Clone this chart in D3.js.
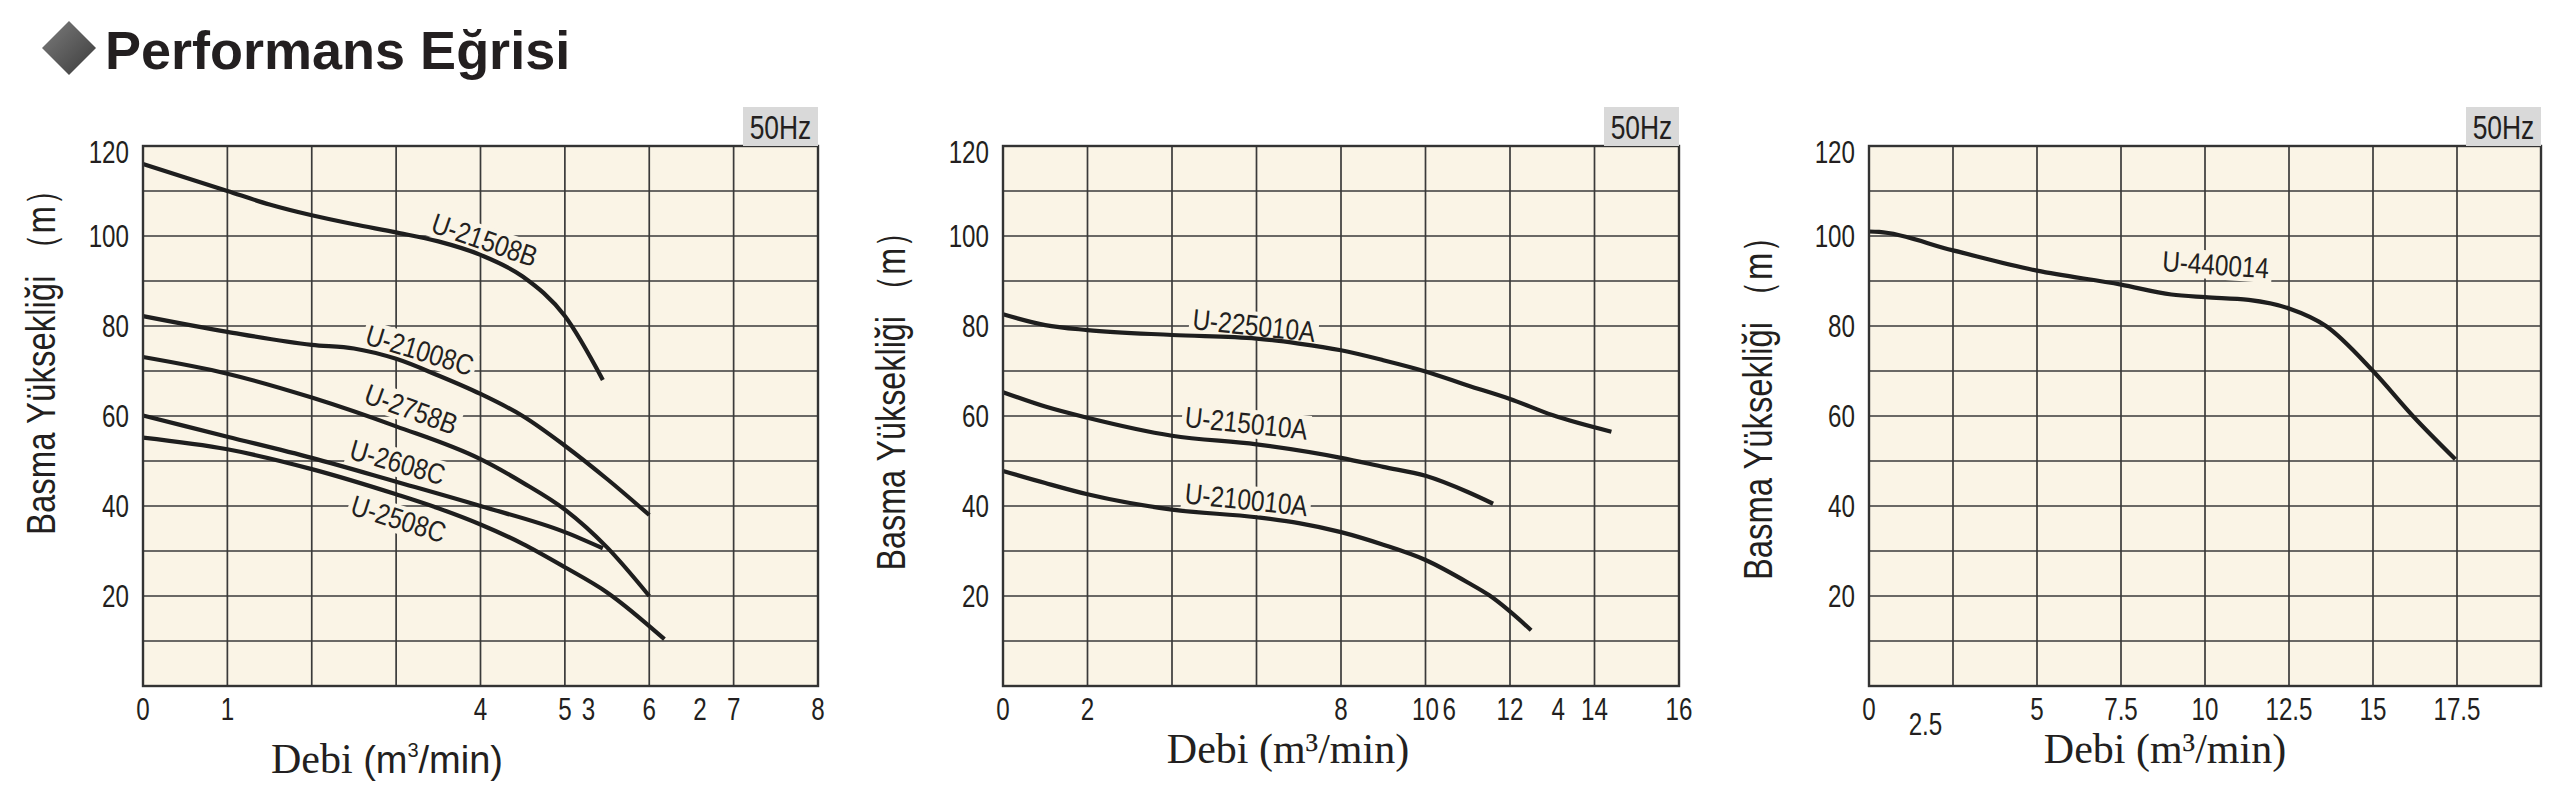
<!DOCTYPE html>
<html>
<head>
<meta charset="utf-8">
<script src="https://cdn.jsdelivr.net/npm/d3@7/dist/d3.min.js"></script>
<style>
  body { margin: 0; background: #fff; }
  svg { display: block; }
</style>
</head>
<body>
<div id="chart"></div>
<script>
// ---- data (flow m3/min, head m) ----
var u21508B_q = [0, 0.5, 1, 1.5, 2, 2.5, 3, 3.5, 4, 4.5, 5, 5.45];
var u21508B_h = [116, 113, 110, 107, 104.6, 102.6, 100.8, 98.8, 95.8, 91, 82.2, 68];
var u21008C_q = [0, 1, 2, 2.5, 3, 3.5, 4, 4.5, 5, 5.5, 6];
var u21008C_h = [82.2, 78.7, 75.8, 75, 72.7, 69, 64.9, 60, 53.4, 46, 38];
var u2758B_q = [0, 1, 2, 3, 4, 4.5, 5, 5.5, 6];
var u2758B_h = [73.1, 69.4, 64.1, 57.7, 50.4, 45.2, 39.2, 30.8, 20];
var u2608C_q = [0, 1, 2, 3, 4, 5, 5.45];
var u2608C_h = [60.1, 55.4, 50.7, 45.4, 40, 34.2, 30.6];
var u2508C_q = [0, 1, 2, 3, 3.5, 4, 4.5, 5, 5.5, 6.18];
var u2508C_h = [55.2, 52.6, 48.2, 42.6, 39.5, 35.9, 31.6, 26.4, 20.8, 10.4];

var u225010A_q = [0, 1, 2, 4, 6, 7, 8, 9, 10, 11, 12, 13, 14.4];
var u225010A_h = [82.6, 80.2, 79.1, 78, 77.2, 76.1, 74.6, 72.4, 69.9, 66.8, 63.8, 60.2, 56.5];
var u215010A_q = [0, 1, 2, 4, 6, 8, 9, 10, 11, 11.6];
var u215010A_h = [65.3, 62.1, 59.6, 55.6, 53.7, 50.7, 48.7, 46.7, 43.1, 40.5];
var u210010A_q = [0, 1, 2, 4, 6, 7, 8, 9, 10, 11, 11.5, 12.5];
var u210010A_h = [47.8, 45.1, 42.6, 39.2, 37.5, 36.2, 34.2, 31.4, 28, 23, 20.2, 12.4];

var u440014_q = [0, 0.3, 2.5, 5, 7.5, 9, 10, 11.3, 12.5, 13.6, 15, 16.2, 17.45];
var u440014_h = [101, 100.9, 96.8, 92.3, 89.2, 87, 86.4, 85.8, 83.9, 80, 70, 59.9, 50.4];

// label anchor on each curve: [flow, head, angle]
var u21508B_lab = [4.05, 99.2, 19];
var u21008C_lab = [3.28, 74.7, 17];
var u2758B_lab = [3.18, 61.6, 20];
var u2608C_lab = [3.02, 49.8, 16];
var u2508C_lab = [3.03, 37.2, 17.5];
var u225010A_lab = [5.94, 80.2, 6];
var u215010A_lab = [5.76, 58.5, 6];
var u210010A_lab = [5.76, 41.5, 6];
var u440014_lab = [10.32, 93.7, 4];

// tick labels (printed as in the source sheet)
var xTicks1 = [0, 1, 4, 5, 5.28, 6, 6.6, 7, 8];
var xTickText1 = ["0", "1", "4", "5", "3", "6", "2", "7", "8"];
var xTicks2 = [0, 2, 8, 10, 10.56, 12, 13.14, 14, 16];
var xTickText2 = ["0", "2", "8", "10", "6", "12", "4", "14", "16"];
var xTicks3 = [0, 1.68, 5, 7.5, 10, 12.5, 15, 17.5];
var xTickText3 = ["0", "2.5", "5", "7.5", "10", "12.5", "15", "17.5"];
var yTicks = [20, 40, 60, 80, 100, 120];
var yGrid = [10, 20, 30, 40, 50, 60, 70, 80, 90, 100, 110];

var width = 2560, height = 787;
var plotTop = 146, plotBottom = 686;
var ink = "#231f20", bg = "#faf4e6";
var sans = "'Liberation Sans', Arial, sans-serif";
var serif = "'Liberation Serif', 'Times New Roman', serif";

var svg = d3.select("#chart").append("svg")
    .attr("width", width)
    .attr("height", height);

// heading
var defs = svg.append("defs");
var grad = defs.append("linearGradient")
    .attr("id", "dia")
    .attr("x1", "0").attr("y1", "0").attr("x2", "1").attr("y2", "1");
grad.append("stop").attr("offset", "0%").attr("stop-color", "#7d7d7d");
grad.append("stop").attr("offset", "100%").attr("stop-color", "#3b3b3b");

svg.append("path")
    .attr("d", "M69,21 L96,48 L69,75 L42,48 Z")
    .attr("fill", "url(#dia)");

svg.append("text")
    .attr("x", 105)
    .attr("y", 69)
    .text("Performans Eğrisi")
    .style("font-family", sans)
    .style("font-weight", "bold")
    .style("font-size", "54px")
    .style("fill", ink);

// condensed sans text, squeezed horizontally by sx
function narrowText(g, x, y, txt, size, sx, anchor) {
    return g.append("text")
        .attr("transform", "translate(" + x + "," + y + ") scale(" + sx + ",1)")
        .attr("text-anchor", anchor || "middle")
        .text(txt)
        .style("font-family", sans)
        .style("font-size", size + "px")
        .style("fill", ink);
}

function drawPanel(p) {
    var x = d3.scaleLinear().domain([0, p.xMax]).range([p.left, p.right]);
    var y = d3.scaleLinear().domain([0, 120]).range([plotBottom, plotTop]);
    var g = svg.append("g");

    g.append("rect")
        .attr("x", p.left).attr("y", plotTop)
        .attr("width", p.right - p.left).attr("height", plotBottom - plotTop)
        .attr("fill", bg);

    // grid
    var xGrid = d3.range(1, 8).map(function(i) { return i * p.xMax / 8; });
    g.selectAll(".vg").data(xGrid).enter().append("line")
        .attr("x1", function(d) { return x(d); })
        .attr("x2", function(d) { return x(d); })
        .attr("y1", plotTop).attr("y2", plotBottom)
        .attr("stroke", "#3a3a3a").attr("stroke-width", 1.7);
    g.selectAll(".hg").data(yGrid).enter().append("line")
        .attr("x1", p.left).attr("x2", p.right)
        .attr("y1", function(d) { return y(d); })
        .attr("y2", function(d) { return y(d); })
        .attr("stroke", "#3a3a3a").attr("stroke-width", 1.7);

    var labBg = g.append("g");
    var curves = g.append("g");
    var labText = g.append("g");

    var line = d3.line()
        .x(function(d) { return x(d[0]); })
        .y(function(d) { return y(d[1]); })
        .curve(d3.curveMonotoneX);

    p.series.forEach(function(s) {
        curves.append("path")
            .datum(d3.zip(s.q, s.h))
            .attr("d", line)
            .attr("fill", "none")
            .attr("stroke", "#1e1e1e")
            .attr("stroke-width", 4.2)
            .attr("stroke-linecap", "butt");

        var tr = "translate(" + x(s.lab[0]) + "," + y(s.lab[1]) + ") rotate(" + s.lab[2] + ")";
        var t = labText.append("g").attr("transform", tr);
        var txt = narrowText(t, 0, 0, s.name, 29, 0.84).attr("dy", "0.36em");
        var bb = txt.node().getBBox();
        labBg.append("g").attr("transform", tr)
            .append("rect")
            .attr("x", bb.x * 0.84 - 3)
            .attr("y", bb.y + 2)
            .attr("width", bb.width * 0.84 + 6)
            .attr("height", bb.height - 4)
            .attr("fill", bg);
    });

    // frame
    g.append("rect")
        .attr("x", p.left).attr("y", plotTop)
        .attr("width", p.right - p.left).attr("height", plotBottom - plotTop)
        .attr("fill", "none")
        .attr("stroke", "#333").attr("stroke-width", 2.4);

    // 50Hz tag
    g.append("rect")
        .attr("x", p.right - 75).attr("y", plotTop - 39)
        .attr("width", 75).attr("height", 39)
        .attr("fill", "#d9d9d9");
    narrowText(g, p.right - 37.5, plotTop - 7, "50Hz", 33, 0.8);

    // y ticks
    yTicks.forEach(function(v) {
        var yy = Math.max(y(v), plotTop + 6);
        narrowText(g, p.left - 14, yy + 11, String(v), 31, 0.78, "end");
    });

    // x ticks
    p.ticks.forEach(function(v, i) {
        var drop = p.tickText[i] === p.lowTick ? 15 : 0;
        narrowText(g, x(v), plotBottom + 34 + drop, p.tickText[i], 31, 0.78);
    });

    // y title
    g.append("text")
        .attr("transform", "translate(" + p.yTitleX + "," + p.yTitleY + ") rotate(-90)")
        .attr("text-anchor", "middle")
        .attr("dy", "0.36em")
        .attr("textLength", p.yTitleLen)
        .attr("lengthAdjust", "spacingAndGlyphs")
        .text("Basma Yüksekliği （m）")
        .style("font-family", sans)
        .style("font-size", "41px")
        .style("fill", ink);

    // x title
    var xt = g.append("text")
        .attr("x", p.xTitleX)
        .attr("y", p.xTitleY)
        .attr("text-anchor", "middle")
        .style("font-family", serif)
        .style("font-size", "42px")
        .style("fill", ink);
    if (p.mixedTitle) {
        xt.append("tspan").text("Debi ");
        xt.append("tspan").text("(m").style("font-family", sans).style("font-size", "38px");
        xt.append("tspan").text("3").style("font-family", sans).style("font-size", "20px")
            .attr("dy", "-16");
        xt.append("tspan").text("/min)").style("font-family", sans).style("font-size", "38px")
            .attr("dy", "16");
    } else {
        xt.text("Debi (m³/min)");
    }
}

drawPanel({
    left: 143, right: 818, xMax: 8,
    ticks: xTicks1, tickText: xTickText1,
    yTitleX: 40, yTitleY: 354, yTitleLen: 362,
    xTitleX: 387, xTitleY: 773, mixedTitle: true,
    series: [
        {name: "U-21508B", q: u21508B_q, h: u21508B_h, lab: u21508B_lab},
        {name: "U-21008C", q: u21008C_q, h: u21008C_h, lab: u21008C_lab},
        {name: "U-2758B", q: u2758B_q, h: u2758B_h, lab: u2758B_lab},
        {name: "U-2608C", q: u2608C_q, h: u2608C_h, lab: u2608C_lab},
        {name: "U-2508C", q: u2508C_q, h: u2508C_h, lab: u2508C_lab}
    ]
});

drawPanel({
    left: 1003, right: 1679, xMax: 16,
    ticks: xTicks2, tickText: xTickText2,
    yTitleX: 890, yTitleY: 393, yTitleLen: 355,
    xTitleX: 1288, xTitleY: 763,
    series: [
        {name: "U-225010A", q: u225010A_q, h: u225010A_h, lab: u225010A_lab},
        {name: "U-215010A", q: u215010A_q, h: u215010A_h, lab: u215010A_lab},
        {name: "U-210010A", q: u210010A_q, h: u210010A_h, lab: u210010A_lab}
    ]
});

drawPanel({
    left: 1869, right: 2541, xMax: 20,
    ticks: xTicks3, tickText: xTickText3, lowTick: "2.5",
    yTitleX: 1757, yTitleY: 400, yTitleLen: 360,
    xTitleX: 2165, xTitleY: 763,
    series: [
        {name: "U-440014", q: u440014_q, h: u440014_h, lab: u440014_lab}
    ]
});
</script>
</body>
</html>
